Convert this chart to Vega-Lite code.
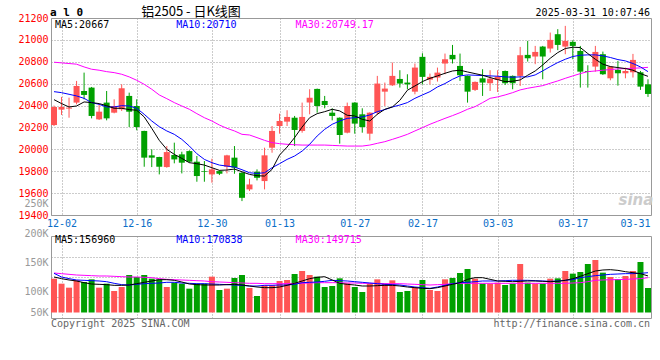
{
"$schema": "https://vega.github.io/schema/vega-lite/v6.json",
"background": "white",
"padding": {"left": 17, "top": 5, "right": 0, "bottom": 0},
"bounds": "flush",
"spacing": 21,
"config": {"view": {"stroke": "#999999", "strokeWidth": 1}, "font": "DejaVu Sans Mono"},
"datasets": {"k": [
{"d":"11-29","o":20222,"h":20400,"l":20213,"c":20387,"v":145200,"m5":20454,"m10":20527,"m30":20796,"vm5":152400,"vm10":168100,"vm30":169500},
{"d":"12-02","o":20363,"h":20479,"l":20314,"c":20387,"v":123700,"m5":20418,"m10":20518,"m30":20790,"vm5":145200,"vm10":152400,"vm30":166700},
{"d":"12-03","o":20372,"h":20472,"l":20289,"c":20381,"v":106600,"m5":20387,"m10":20503,"m30":20784,"vm5":139500,"vm10":145200,"vm30":163800},
{"d":"12-04","o":20427,"h":20625,"l":20411,"c":20579,"v":138100,"m5":20396,"m10":20488,"m30":20778,"vm5":135200,"vm10":139500,"vm30":160900},
{"d":"12-05","o":20533,"h":20701,"l":20457,"c":20497,"v":130900,"m5":20433,"m10":20466,"m30":20753,"vm5":128000,"vm10":138100,"vm30":159500},
{"d":"12-06","o":20564,"h":20570,"l":20283,"c":20305,"v":142300,"m5":20427,"m10":20427,"m30":20732,"vm5":122300,"vm10":136600,"vm30":158100},
{"d":"12-09","o":20274,"h":20411,"l":20268,"c":20344,"v":106600,"m5":20418,"m10":20411,"m30":20723,"vm5":120900,"vm10":135200,"vm30":156700},
{"d":"12-10","o":20427,"h":20533,"l":20265,"c":20283,"v":123700,"m5":20399,"m10":20387,"m30":20710,"vm5":119500,"vm10":132300,"vm30":156700},
{"d":"12-11","o":20335,"h":20457,"l":20329,"c":20396,"v":92300,"m5":20375,"m10":20387,"m30":20701,"vm5":116600,"vm10":125200,"vm30":155200},
{"d":"12-12","o":20366,"h":20594,"l":20351,"c":20558,"v":109400,"m5":20375,"m10":20399,"m30":20686,"vm5":116600,"vm10":119500,"vm30":153800},
{"d":"12-13","o":20488,"h":20518,"l":20204,"c":20344,"v":160900,"m5":20363,"m10":20396,"m30":20662,"vm5":118000,"vm10":118000,"vm30":152400},
{"d":"12-16","o":20396,"h":20457,"l":20174,"c":20204,"v":152400,"m5":20357,"m10":20375,"m30":20631,"vm5":123700,"vm10":120900,"vm30":152400},
{"d":"12-17","o":20168,"h":20170,"l":19841,"c":19924,"v":160900,"m5":20296,"m10":20320,"m30":20594,"vm5":129500,"vm10":123700,"vm30":150900},
{"d":"12-18","o":19945,"h":20000,"l":19838,"c":19924,"v":145200,"m5":20192,"m10":20259,"m30":20549,"vm5":135200,"vm10":125200,"vm30":149500},
{"d":"12-19","o":19930,"h":19932,"l":19771,"c":19841,"v":142300,"m5":20082,"m10":20207,"m30":20497,"vm5":140900,"vm10":126600,"vm30":145200},
{"d":"12-20","o":19838,"h":20030,"l":19832,"c":19975,"v":109400,"m5":20000,"m10":20168,"m30":20463,"vm5":140900,"vm10":129500,"vm30":142300},
{"d":"12-23","o":19948,"h":20061,"l":19872,"c":19908,"v":128000,"m5":19954,"m10":20137,"m30":20427,"vm5":138100,"vm10":129500,"vm30":140900},
{"d":"12-24","o":19954,"h":19978,"l":19780,"c":19878,"v":123700,"m5":19917,"m10":20091,"m30":20396,"vm5":130900,"vm10":126600,"vm30":139500},
{"d":"12-25","o":19984,"h":19991,"l":19878,"c":19887,"v":102300,"m5":19878,"m10":20030,"m30":20366,"vm5":122300,"vm10":125200,"vm30":138100},
{"d":"12-26","o":19887,"h":19939,"l":19704,"c":19756,"v":123700,"m5":19869,"m10":19960,"m30":20326,"vm5":119500,"vm10":123700,"vm30":136600},
{"d":"12-27","o":19801,"h":19893,"l":19704,"c":19795,"v":123700,"m5":19856,"m10":19908,"m30":20289,"vm5":118000,"vm10":123700,"vm30":135200},
{"d":"12-30","o":19771,"h":19914,"l":19695,"c":19817,"v":153800,"m5":19832,"m10":19878,"m30":20259,"vm5":118000,"vm10":122300,"vm30":132300},
{"d":"12-31","o":19801,"h":19808,"l":19765,"c":19777,"v":96600,"m5":19808,"m10":19856,"m30":20222,"vm5":118000,"vm10":120900,"vm30":130900},
{"d":"01-02","o":19841,"h":19950,"l":19780,"c":19945,"v":102300,"m5":19811,"m10":19847,"m30":20192,"vm5":119500,"vm10":119500,"vm30":129500},
{"d":"01-03","o":19924,"h":20030,"l":19777,"c":19832,"v":148100,"m5":19820,"m10":19838,"m30":20168,"vm5":120900,"vm10":118000,"vm30":128000},
{"d":"01-06","o":19786,"h":19795,"l":19527,"c":19557,"v":160900,"m5":19795,"m10":19814,"m30":20137,"vm5":118000,"vm10":116600,"vm30":126600},
{"d":"01-07","o":19634,"h":19731,"l":19619,"c":19679,"v":105200,"m5":19771,"m10":19786,"m30":20131,"vm5":113700,"vm10":113700,"vm30":125200},
{"d":"01-08","o":19795,"h":19817,"l":19716,"c":19740,"v":70800,"m5":19759,"m10":19780,"m30":20107,"vm5":109400,"vm10":113700,"vm30":125200},
{"d":"01-09","o":19710,"h":20015,"l":19634,"c":19945,"v":116600,"m5":19756,"m10":19786,"m30":20082,"vm5":106600,"vm10":116600,"vm30":123700},
{"d":"01-10","o":20015,"h":20213,"l":19969,"c":20168,"v":116600,"m5":19817,"m10":19832,"m30":20061,"vm5":106600,"vm10":116600,"vm30":123700},
{"d":"01-13","o":20213,"h":20326,"l":20143,"c":20259,"v":135200,"m5":19948,"m10":19869,"m30":20052,"vm5":109400,"vm10":118000,"vm30":123700},
{"d":"01-14","o":20253,"h":20357,"l":20213,"c":20296,"v":139500,"m5":20021,"m10":19908,"m30":20046,"vm5":116600,"vm10":118000,"vm30":123700},
{"d":"01-15","o":20289,"h":20305,"l":20030,"c":20177,"v":165200,"m5":20107,"m10":19939,"m30":20042,"vm5":125200,"vm10":120900,"vm30":125200},
{"d":"01-16","o":20168,"h":20427,"l":20152,"c":20296,"v":178100,"m5":20204,"m10":19984,"m30":20039,"vm5":135200,"vm10":128000,"vm30":125200},
{"d":"01-17","o":20427,"h":20549,"l":20320,"c":20472,"v":160900,"m5":20289,"m10":20046,"m30":20039,"vm5":145200,"vm10":129500,"vm30":126600},
{"d":"01-20","o":20552,"h":20555,"l":20335,"c":20396,"v":153800,"m5":20326,"m10":20122,"m30":20039,"vm5":150900,"vm10":130900,"vm30":128000},
{"d":"01-21","o":20442,"h":20488,"l":20375,"c":20405,"v":109400,"m5":20344,"m10":20183,"m30":20039,"vm5":153800,"vm10":133800,"vm30":128000},
{"d":"01-22","o":20335,"h":20375,"l":20265,"c":20305,"v":113700,"m5":20366,"m10":20229,"m30":20036,"vm5":139500,"vm10":138100,"vm30":128000},
{"d":"01-23","o":20289,"h":20292,"l":20052,"c":20131,"v":146600,"m5":20351,"m10":20259,"m30":20033,"vm5":125200,"vm10":136600,"vm30":128000},
{"d":"01-24","o":20152,"h":20427,"l":20146,"c":20396,"v":125200,"m5":20311,"m10":20283,"m30":20030,"vm5":120900,"vm10":135200,"vm30":126600},
{"d":"01-27","o":20427,"h":20430,"l":20143,"c":20235,"v":109400,"m5":20305,"m10":20289,"m30":20030,"vm5":118000,"vm10":132300,"vm30":126600},
{"d":"02-05","o":20320,"h":20375,"l":20152,"c":20204,"v":88000,"m5":20274,"m10":20296,"m30":20030,"vm5":113700,"vm10":129500,"vm30":125200},
{"d":"02-06","o":20143,"h":20338,"l":20082,"c":20335,"v":123700,"m5":20259,"m10":20314,"m30":20039,"vm5":113700,"vm10":126600,"vm30":125200},
{"d":"02-07","o":20335,"h":20671,"l":20314,"c":20601,"v":142300,"m5":20320,"m10":20344,"m30":20055,"vm5":115200,"vm10":123700,"vm30":125200},
{"d":"02-10","o":20527,"h":20610,"l":20396,"c":20555,"v":123700,"m5":20366,"m10":20363,"m30":20070,"vm5":116600,"vm10":120900,"vm30":123700},
{"d":"02-11","o":20585,"h":20793,"l":20579,"c":20671,"v":138100,"m5":20387,"m10":20387,"m30":20091,"vm5":116600,"vm10":119500,"vm30":123700},
{"d":"02-12","o":20643,"h":20723,"l":20564,"c":20601,"v":88000,"m5":20448,"m10":20405,"m30":20113,"vm5":113700,"vm10":118000,"vm30":123700},
{"d":"02-13","o":20610,"h":20686,"l":20549,"c":20594,"v":92300,"m5":20540,"m10":20427,"m30":20137,"vm5":109400,"vm10":113700,"vm30":122300},
{"d":"02-14","o":20527,"h":20784,"l":20503,"c":20747,"v":106600,"m5":20579,"m10":20466,"m30":20168,"vm5":106600,"vm10":109400,"vm30":120900},
{"d":"02-17","o":20845,"h":20878,"l":20594,"c":20662,"v":139500,"m5":20619,"m10":20497,"m30":20198,"vm5":103700,"vm10":106600,"vm30":119500},
{"d":"02-18","o":20637,"h":20692,"l":20594,"c":20662,"v":96600,"m5":20649,"m10":20527,"m30":20229,"vm5":102300,"vm10":103700,"vm30":118000},
{"d":"02-19","o":20656,"h":20747,"l":20619,"c":20701,"v":92300,"m5":20671,"m10":20570,"m30":20256,"vm5":106600,"vm10":109400,"vm30":119500},
{"d":"02-20","o":20784,"h":20875,"l":20686,"c":20823,"v":142300,"m5":20695,"m10":20601,"m30":20283,"vm5":113700,"vm10":116600,"vm30":120900},
{"d":"02-21","o":20863,"h":20954,"l":20784,"c":20823,"v":148100,"m5":20716,"m10":20640,"m30":20308,"vm5":120900,"vm10":123700,"vm30":123700},
{"d":"02-24","o":20762,"h":20875,"l":20625,"c":20677,"v":169500,"m5":20723,"m10":20671,"m30":20335,"vm5":128000,"vm10":128000,"vm30":125200},
{"d":"02-25","o":20671,"h":20675,"l":20427,"c":20527,"v":186700,"m5":20707,"m10":20680,"m30":20366,"vm5":142300,"vm10":129500,"vm30":125200},
{"d":"02-26","o":20543,"h":20620,"l":20533,"c":20616,"v":145200,"m5":20692,"m10":20677,"m30":20390,"vm5":149500,"vm10":132300,"vm30":125200},
{"d":"02-27","o":20649,"h":20732,"l":20488,"c":20610,"v":123700,"m5":20677,"m10":20674,"m30":20427,"vm5":149500,"vm10":135200,"vm30":125200},
{"d":"02-28","o":20604,"h":20723,"l":20533,"c":20646,"v":123700,"m5":20656,"m10":20671,"m30":20466,"vm5":142300,"vm10":135200,"vm30":125200},
{"d":"03-03","o":20634,"h":20723,"l":20524,"c":20665,"v":128000,"m5":20637,"m10":20668,"m30":20479,"vm5":135200,"vm10":135200,"vm30":125200},
{"d":"03-04","o":20716,"h":20720,"l":20588,"c":20604,"v":118000,"m5":20619,"m10":20662,"m30":20497,"vm5":133800,"vm10":136600,"vm30":125200},
{"d":"03-05","o":20671,"h":20675,"l":20549,"c":20604,"v":123700,"m5":20622,"m10":20659,"m30":20518,"vm5":132300,"vm10":138100,"vm30":125200},
{"d":"03-06","o":20671,"h":20936,"l":20579,"c":20860,"v":208200,"m5":20634,"m10":20662,"m30":20543,"vm5":133800,"vm10":138100,"vm30":125200},
{"d":"03-07","o":20863,"h":20991,"l":20802,"c":20832,"v":128000,"m5":20677,"m10":20662,"m30":20558,"vm5":135200,"vm10":138100,"vm30":125200},
{"d":"03-10","o":20848,"h":20945,"l":20778,"c":20890,"v":123700,"m5":20716,"m10":20680,"m30":20570,"vm5":135200,"vm10":136600,"vm30":125200},
{"d":"03-11","o":20939,"h":20945,"l":20640,"c":20848,"v":123700,"m5":20771,"m10":20717,"m30":20582,"vm5":133800,"vm10":135200,"vm30":125200},
{"d":"03-12","o":20921,"h":21067,"l":20884,"c":21000,"v":145200,"m5":20832,"m10":20756,"m30":20604,"vm5":132300,"vm10":133800,"vm30":125200},
{"d":"03-13","o":21052,"h":21098,"l":20906,"c":20954,"v":146600,"m5":20884,"m10":20793,"m30":20625,"vm5":133800,"vm10":135200,"vm30":125200},
{"d":"03-14","o":20939,"h":21128,"l":20869,"c":20991,"v":178100,"m5":20921,"m10":20823,"m30":20649,"vm5":138100,"vm10":138100,"vm30":125200},
{"d":"03-17","o":20982,"h":20997,"l":20823,"c":20945,"v":166700,"m5":20933,"m10":20848,"m30":20671,"vm5":145200,"vm10":140900,"vm30":126600},
{"d":"03-18","o":20899,"h":20945,"l":20564,"c":20710,"v":173800,"m5":20930,"m10":20860,"m30":20692,"vm5":155200,"vm10":149500,"vm30":128000},
{"d":"03-19","o":20716,"h":20768,"l":20564,"c":20707,"v":208200,"m5":20875,"m10":20863,"m30":20710,"vm5":166700,"vm10":153800,"vm30":132300},
{"d":"03-20","o":20756,"h":20945,"l":20710,"c":20890,"v":225300,"m5":20823,"m10":20863,"m30":20716,"vm5":178100,"vm10":158100,"vm30":138100},
{"d":"03-21","o":20869,"h":20893,"l":20680,"c":20686,"v":171000,"m5":20778,"m10":20854,"m30":20723,"vm5":182400,"vm10":160900,"vm30":139500},
{"d":"03-24","o":20649,"h":20760,"l":20631,"c":20756,"v":152400,"m5":20756,"m10":20839,"m30":20729,"vm5":183800,"vm10":163800,"vm30":140900},
{"d":"03-25","o":20726,"h":20808,"l":20582,"c":20695,"v":143800,"m5":20747,"m10":20820,"m30":20735,"vm5":180800,"vm10":165200,"vm30":140900},
{"d":"03-26","o":20695,"h":20747,"l":20649,"c":20716,"v":156700,"m5":20738,"m10":20808,"m30":20738,"vm5":175200,"vm10":166700,"vm30":142300},
{"d":"03-27","o":20704,"h":20872,"l":20656,"c":20817,"v":178100,"m5":20723,"m10":20784,"m30":20741,"vm5":170900,"vm10":166700,"vm30":143800},
{"d":"03-28","o":20704,"h":20716,"l":20543,"c":20573,"v":216700,"m5":20692,"m10":20753,"m30":20744,"vm5":166700,"vm10":168100,"vm30":145200},
{"d":"03-31","o":20594,"h":20640,"l":20479,"c":20506,"v":105200,"m5":20667,"m10":20710,"m30":20749.17,"vm5":156960,"vm10":170838,"vm30":149715}
]},
"vconcat": [
{
"width": 600, "height": 197,
"data": {"name": "k"},
"encoding": {"x": {"field": "d", "type": "ordinal", "title": null,
  "scale": {"type": "point", "padding": 0.4, "domain": ["11-29","12-02","12-03","12-04","12-05","12-06","12-09","12-10","12-11","12-12","12-13","12-16","12-17","12-18","12-19","12-20","12-23","12-24","12-25","12-26","12-27","12-30","12-31","01-02","01-03","01-06","01-07","01-08","01-09","01-10","01-13","01-14","01-15","01-16","01-17","01-20","01-21","01-22","01-23","01-24","01-27","02-05","02-06","02-07","02-10","02-11","02-12","02-13","02-14","02-17","02-18","02-19","02-20","02-21","02-24","02-25","02-26","02-27","02-28","03-03","03-04","03-05","03-06","03-07","03-10","03-11","03-12","03-13","03-14","03-17","03-18","03-19","03-20","03-21","03-24","03-25","03-26","03-27","03-28","03-31"]},
  "axis": {"values": ["12-02","12-16","12-30","01-13","01-27","02-17","03-03","03-17","03-31"], "labelColor": "#0a6ec8", "labelFont": "DejaVu Sans Mono", "labelFontSize": 10, "labelAngle": 0, "labelPadding": 3, "labelFlush": 5, "labelFlushOffset": 2, "labelOverlap": false, "ticks": false, "tickSize": 0, "domain": false, "grid": true, "gridColor": "#999999", "gridDash": [1, 2], "gridOpacity": {"condition": {"test": "datum.value == '03-31'", "value": 0}, "value": 1}}}},
"layer": [
 {"mark": {"type": "rule", "strokeWidth": 1},
  "encoding": {"y": {"field": "l", "type": "quantitative", "title": null, "scale": {"domain": [19400, 21200], "nice": false, "zero": false},
     "axis": {"values": [19400, 19600, 19800, 20000, 20200, 20400, 20600, 20800, 21000, 21200], "tickCount": 50, "format": "d", "labelColor": "#ff0000", "labelFont": "DejaVu Sans Mono", "labelFontSize": 10, "labelPadding": 3, "ticks": false, "tickSize": 0, "domain": false, "grid": true, "gridColor": "#999999", "gridDash": [1, 2], "labelOverlap": false, "labelFlush": false}},
   "y2": {"field": "h"},
   "color": {"condition": {"test": "datum.c > datum.o", "value": "#ff5555"}, "value": "#00a000"}}},
 {"mark": {"type": "bar", "width": 6},
  "encoding": {"y": {"field": "o", "type": "quantitative", "scale": {"domain": [19400, 21200], "nice": false, "zero": false}},
   "y2": {"field": "c"},
   "color": {"condition": {"test": "datum.c > datum.o", "value": "#ff5555"}, "value": "#00a000"}}},
 {"mark": {"type": "line", "color": "#ff00ff", "strokeWidth": 1},
  "encoding": {"y": {"field": "m30", "type": "quantitative", "scale": {"domain": [19400, 21200], "nice": false, "zero": false}}}},
 {"mark": {"type": "line", "color": "#0000ff", "strokeWidth": 1},
  "encoding": {"y": {"field": "m10", "type": "quantitative", "scale": {"domain": [19400, 21200], "nice": false, "zero": false}}}},
 {"mark": {"type": "line", "color": "#000000", "strokeWidth": 1},
  "encoding": {"y": {"field": "m5", "type": "quantitative", "scale": {"domain": [19400, 21200], "nice": false, "zero": false}}}},
 {"transform": [{"filter": "datum.d == '11-29'"}],
  "mark": {"type": "text", "text": "a l 0", "align": "left", "baseline": "middle", "dx": -4, "font": "DejaVu Sans Mono", "fontSize": 11, "fontWeight": "bold", "color": "#000000"},
  "encoding": {"y": {"datum": 21245, "type": "quantitative", "scale": {"domain": [19400, 21200], "nice": false, "zero": false}}}},
 {"transform": [{"filter": "datum.d == '12-17'"}],
  "mark": {"type": "text", "text": "铝2505 - 日K线图", "align": "left", "baseline": "middle", "dx": -3, "font": "Noto Sans CJK SC", "fontSize": 13, "color": "#000000"},
  "encoding": {"y": {"datum": 21256, "type": "quantitative", "scale": {"domain": [19400, 21200], "nice": false, "zero": false}}}},
 {"transform": [{"filter": "datum.d == '03-31'"}],
  "mark": {"type": "text", "text": "2025-03-31 10:07:46", "align": "right", "baseline": "middle", "dx": 2, "font": "DejaVu Sans Mono", "fontSize": 10, "color": "#000000"},
  "encoding": {"y": {"datum": 21245, "type": "quantitative", "scale": {"domain": [19400, 21200], "nice": false, "zero": false}}}},
 {"transform": [{"filter": "datum.d == '11-29'"}],
  "mark": {"type": "text", "text": "MA5:20667", "align": "left", "baseline": "middle", "dx": 1, "font": "DejaVu Sans Mono", "fontSize": 10, "color": "#000000"},
  "encoding": {"y": {"datum": 21137, "type": "quantitative", "scale": {"domain": [19400, 21200], "nice": false, "zero": false}}}},
 {"transform": [{"filter": "datum.d == '12-23'"}],
  "mark": {"type": "text", "text": "MA10:20710", "align": "left", "baseline": "middle", "dx": 2, "font": "DejaVu Sans Mono", "fontSize": 10, "color": "#0000ff"},
  "encoding": {"y": {"datum": 21137, "type": "quantitative", "scale": {"domain": [19400, 21200], "nice": false, "zero": false}}}},
 {"transform": [{"filter": "datum.d == '01-15'"}],
  "mark": {"type": "text", "text": "MA30:20749.17", "align": "left", "baseline": "middle", "dx": 1, "font": "DejaVu Sans Mono", "fontSize": 10, "color": "#ff00ff"},
  "encoding": {"y": {"datum": 21137, "type": "quantitative", "scale": {"domain": [19400, 21200], "nice": false, "zero": false}}}},
 {"transform": [{"filter": "datum.d == '03-27'"}],
  "mark": {"type": "text", "text": "sina", "align": "center", "baseline": "middle", "dx": 3, "font": "DejaVu Sans", "fontSize": 15, "fontWeight": "bold", "fontStyle": "italic", "color": "#cccccc"},
  "encoding": {"y": {"datum": 19536, "type": "quantitative", "scale": {"domain": [19400, 21200], "nice": false, "zero": false}}}}
]
},
{
"width": 600, "height": 82,
"data": {"name": "k"},
"encoding": {"x": {"field": "d", "type": "ordinal", "title": null,
  "scale": {"type": "point", "padding": 0.4, "domain": ["11-29","12-02","12-03","12-04","12-05","12-06","12-09","12-10","12-11","12-12","12-13","12-16","12-17","12-18","12-19","12-20","12-23","12-24","12-25","12-26","12-27","12-30","12-31","01-02","01-03","01-06","01-07","01-08","01-09","01-10","01-13","01-14","01-15","01-16","01-17","01-20","01-21","01-22","01-23","01-24","01-27","02-05","02-06","02-07","02-10","02-11","02-12","02-13","02-14","02-17","02-18","02-19","02-20","02-21","02-24","02-25","02-26","02-27","02-28","03-03","03-04","03-05","03-06","03-07","03-10","03-11","03-12","03-13","03-14","03-17","03-18","03-19","03-20","03-21","03-24","03-25","03-26","03-27","03-28","03-31"]},
  "axis": {"values": ["12-02","12-16","12-30","01-13","01-27","02-17","03-03","03-17"], "labels": false, "ticks": false, "tickSize": 0, "domain": false, "grid": true, "gridColor": "#999999", "gridDash": [1, 2]}}},
"layer": [
 {"mark": {"type": "bar", "width": 6},
  "encoding": {"y": {"field": "v", "type": "quantitative", "title": null, "scale": {"domain": [-23600, 328300], "nice": false, "zero": false},
     "axis": {"values": [2100, 67800, 79400, 88000, 153600, 208200, 216700, 239500], "tickCount": 50,
       "labelExpr": "datum.value == 2100 ? '50K' : datum.value == 88000 ? '100K' : datum.value == 216700 ? '150K' : datum.value == 79400 ? '200K' : datum.value == 208200 ? '250K' : ''",
       "labelColor": "#999999", "labelFont": "DejaVu Sans Mono", "labelFontSize": 10, "labelPadding": 3, "ticks": false, "tickSize": 0, "domain": false,
       "grid": true, "gridColor": "#999999", "gridDash": [1, 2],
       "gridOpacity": {"condition": {"test": "datum.value == 67800 || datum.value == 153600 || datum.value == 239500", "value": 1}, "value": 0},
       "labelOffset": {"condition": {"test": "datum.value == 79400 || datum.value == 208200", "value": -60.5}, "value": 0},
       "labelOverlap": false, "labelFlush": false}},
   "y2": {"datum": 0},
   "color": {"condition": {"test": "datum.c > datum.o", "value": "#ff5555"}, "value": "#00a000"}}},
 {"mark": {"type": "line", "color": "#ff00ff", "strokeWidth": 1},
  "encoding": {"y": {"field": "vm30", "type": "quantitative", "scale": {"domain": [-23600, 328300], "nice": false, "zero": false}}}},
 {"mark": {"type": "line", "color": "#0000ff", "strokeWidth": 1},
  "encoding": {"y": {"field": "vm10", "type": "quantitative", "scale": {"domain": [-23600, 328300], "nice": false, "zero": false}}}},
 {"mark": {"type": "line", "color": "#000000", "strokeWidth": 1},
  "encoding": {"y": {"field": "vm5", "type": "quantitative", "scale": {"domain": [-23600, 328300], "nice": false, "zero": false}}}},
 {"transform": [{"filter": "datum.d == '11-29'"}],
  "mark": {"type": "text", "text": "MA5:156960", "align": "left", "baseline": "middle", "dx": 1, "font": "DejaVu Sans Mono", "fontSize": 10, "color": "#000000"},
  "encoding": {"y": {"datum": 312400, "type": "quantitative", "scale": {"domain": [-23600, 328300], "nice": false, "zero": false}}}},
 {"transform": [{"filter": "datum.d == '12-23'"}],
  "mark": {"type": "text", "text": "MA10:170838", "align": "left", "baseline": "middle", "dx": 2, "font": "DejaVu Sans Mono", "fontSize": 10, "color": "#0000ff"},
  "encoding": {"y": {"datum": 312400, "type": "quantitative", "scale": {"domain": [-23600, 328300], "nice": false, "zero": false}}}},
 {"transform": [{"filter": "datum.d == '01-15'"}],
  "mark": {"type": "text", "text": "MA30:149715", "align": "left", "baseline": "middle", "dx": 1, "font": "DejaVu Sans Mono", "fontSize": 10, "color": "#ff00ff"},
  "encoding": {"y": {"datum": 312400, "type": "quantitative", "scale": {"domain": [-23600, 328300], "nice": false, "zero": false}}}},
 {"transform": [{"filter": "datum.d == '11-29'"}],
  "mark": {"type": "text", "text": "Copyright 2025 SINA.COM", "align": "left", "baseline": "middle", "dx": -3, "font": "DejaVu Sans Mono", "fontSize": 10, "color": "#666666"},
  "encoding": {"y": {"datum": -49000, "type": "quantitative", "scale": {"domain": [-23600, 328300], "nice": false, "zero": false}}}},
 {"transform": [{"filter": "datum.d == '03-31'"}],
  "mark": {"type": "text", "text": "http://finance.sina.com.cn", "align": "right", "baseline": "middle", "dx": 2, "font": "DejaVu Sans Mono", "fontSize": 10, "color": "#666666"},
  "encoding": {"y": {"datum": -49000, "type": "quantitative", "scale": {"domain": [-23600, 328300], "nice": false, "zero": false}}}}
]
}
]
}
